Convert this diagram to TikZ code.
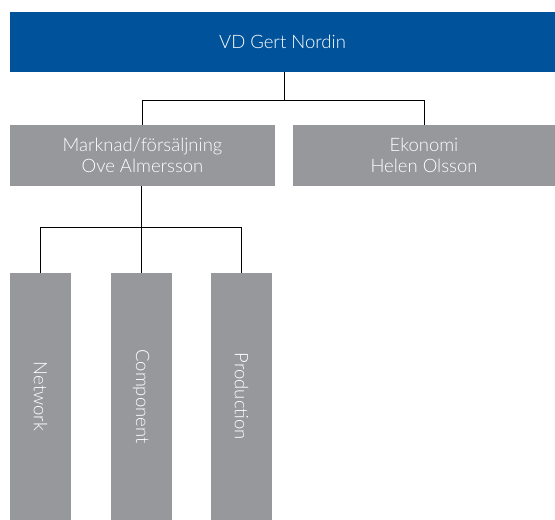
\documentclass[tikz,border=0pt]{standalone}
\usepackage{fontspec}
\setmainfont{Lato Light}
\definecolor{vdblue}{RGB}{0,83,155}
\definecolor{orggray}{RGB}{151,152,156}
\begin{document}
\begin{tikzpicture}[x=1pt,y=-1pt, font=\fontsize{18.5}{21}\selectfont,
  unitbox/.style={fill=orggray, text=white, align=center, inner sep=0pt, minimum height=61pt},
  teambox/.style={fill=orggray, text=white, inner sep=0pt, minimum width=61pt, minimum height=247pt},
  link/.style={line width=1pt}]
\useasboundingbox (0,0) rectangle (555,520);
\node[fill=vdblue, text=white, inner sep=0pt, minimum width=545pt, minimum height=60pt] (vd) at (282.5,42) {VD Gert Nordin};
\node[unitbox, minimum width=265pt] (mkt) at (142.5,155.5) {Marknad/försäljning\\Ove Almersson};
\node[unitbox, minimum width=262pt] (eko) at (424,155.5) {Ekonomi\\Helen Olsson};
\node[teambox] (net) at (40.5,396.5) {\rotatebox{-90}{Network}};
\node[teambox] (comp) at (141,396.5) {\rotatebox{-90}{Component}};
\node[teambox] (prod) at (241.5,396.5) {\rotatebox{-90}{Production}};
\coordinate (bus1) at (284,100);
\coordinate (bus2) at (141,227);
\draw[link] (vd.south -| bus1) -- (bus1);
\draw[link] (mkt.north) -- (mkt.north |- bus1) -- (eko.north |- bus1) -- (eko.north);
\draw[link] (mkt.south -| bus2) -- (comp.north);
\draw[link] (net.north) -- (net.north |- bus2) -- (prod.north |- bus2) -- (prod.north);
\end{tikzpicture}
\end{document}
